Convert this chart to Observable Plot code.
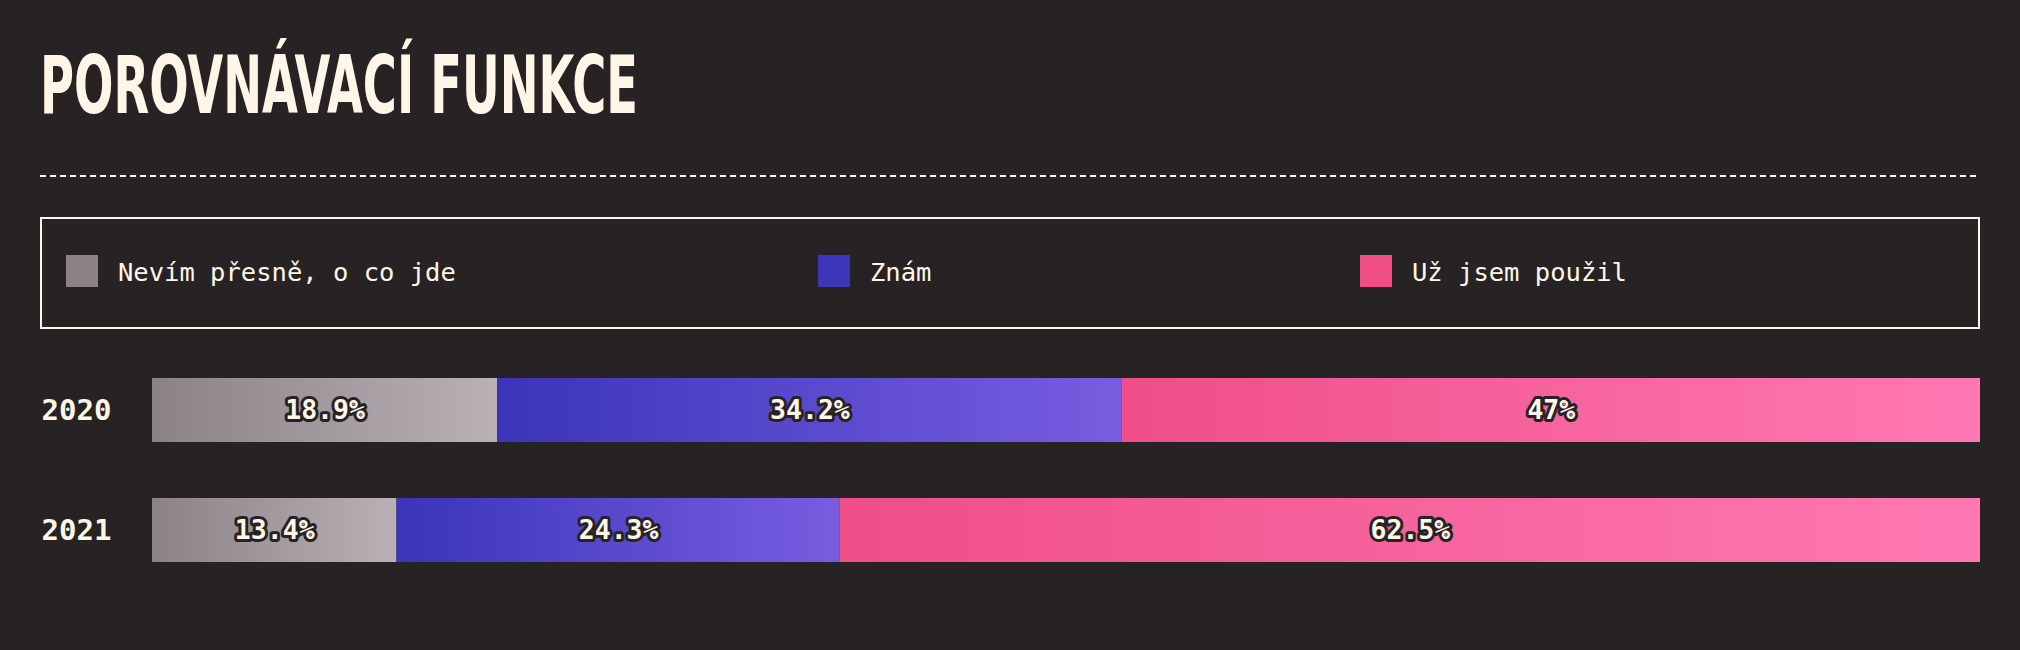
<!DOCTYPE html>
<html>
<head>
<meta charset="utf-8">
<script src="https://cdn.jsdelivr.net/npm/d3@7"></script>
<script src="https://cdn.jsdelivr.net/npm/@observablehq/plot@0.6"></script>
<style>
  html, body { margin: 0; padding: 0; background: #272324; }
  #page { position: relative; width: 2020px; height: 650px; overflow: hidden; background: #272324; color: #fff6e8; }
  #title { position: absolute; left: 40px; top: 46px; font-family: "Liberation Sans Narrow", "DejaVu Sans Condensed", sans-serif; font-weight: bold; font-size: 80px; line-height: 80px; white-space: nowrap; transform-origin: 0 0; letter-spacing: 0; }
  #rule { position: absolute; left: 40px; top: 175px; width: 1940px; height: 2px; background: repeating-linear-gradient(to right, #fff6e8 0 6px, transparent 6px 10px); }
  #legend { position: absolute; left: 40px; top: 217px; width: 1940px; height: 112px; box-sizing: border-box; border: 2px solid #fff6e8; }
  .item { position: absolute; top: 37px; display: flex; align-items: center; font-family: "DejaVu Sans Mono", monospace; font-size: 25.5px; color: #fff6e8; white-space: nowrap; }
  .sw { width: 32px; height: 32px; margin-right: 20px; position: relative; top: -1px; }
  #chart { position: absolute; left: 0; top: 358px; }
</style>
</head>
<body>
<div id="page">
  <div id="title">POROVNÁVACÍ FUNKCE</div>
  <div id="rule"></div>
  <div id="legend"></div>
  <div id="chart"></div>
</div>
<script>
// ---- data ----
const years = ["2020", "2021"];
const categories = ["Nevím přesně, o co jde", "Znám", "Už jsem použil"];
const values2020 = [18.9, 34.2, 47];
const values2021 = [13.4, 24.3, 62.5];
const colorStart = ["#8b8288", "#3a35b9", "#ef4e87"];
const colorEnd = ["#b9b1b4", "#785de0", "#ff78b3"];

const seriesByYear = {"2020": values2020, "2021": values2021};
const rows = years.flatMap(year => categories.map((category, i) => ({year, category, value: seriesByYear[year][i]})));

// ---- title fit ----
const title = document.getElementById("title");
const tw = title.getBoundingClientRect().width;
title.style.transform = `scaleX(${598 / tw})`;

// ---- legend ----
const legend = document.getElementById("legend");
const legendLeft = [24, 776, 1318];
categories.forEach((c, i) => {
  const it = document.createElement("div");
  it.className = "item";
  it.style.left = legendLeft[i] + "px";
  const sw = document.createElement("div");
  sw.className = "sw";
  sw.style.background = colorStart[i];
  const tx = document.createElement("span");
  tx.textContent = c;
  it.appendChild(sw);
  it.appendChild(tx);
  legend.appendChild(it);
});

// ---- chart ----
const gradIds = categories.map((c, i) => `grad${i}`);
const chart = Plot.plot({
  width: 2020,
  height: 292,
  marginTop: 20,
  marginBottom: 88,
  marginLeft: 152,
  marginRight: 40,
  style: {background: "transparent", fontFamily: "DejaVu Sans Mono, monospace", color: "#fff6e8"},
  x: {axis: null},
  y: {domain: years, paddingInner: 0.4667, paddingOuter: 0, round: false},
  color: {type: "ordinal", domain: categories, range: gradIds.map(id => `url(#${id})`)},
  marks: [
    Plot.barX(rows, Plot.stackX({x: "value", y: "year", fill: "category", offset: "normalize"})),
    Plot.text(rows, Plot.stackX({
      x: "value", y: "year", z: "category", offset: "normalize",
      text: d => `${d.value}%`,
      fill: "#fff6e8", stroke: "#272324", strokeWidth: 6, strokeLinejoin: "round",
      fontSize: 26.5, fontWeight: "bold", fontFamily: "DejaVu Sans Mono, monospace"
    })),
    Plot.axisY({tickSize: 0, tickPadding: 0, textAnchor: "start", dx: -111, fontSize: 29, fontWeight: "bold", fill: "#fff6e8", label: null})
  ]
});
const ns = "http://www.w3.org/2000/svg";
const defs = document.createElementNS(ns, "defs");
gradIds.forEach((id, i) => {
  const g = document.createElementNS(ns, "linearGradient");
  g.setAttribute("id", id);
  g.setAttribute("x1", "0"); g.setAttribute("y1", "0");
  g.setAttribute("x2", "1"); g.setAttribute("y2", "0");
  [[0, colorStart[i]], [1, colorEnd[i]]].forEach(([o, c]) => {
    const s = document.createElementNS(ns, "stop");
    s.setAttribute("offset", o);
    s.setAttribute("stop-color", c);
    g.appendChild(s);
  });
  defs.appendChild(g);
});
chart.insertBefore(defs, chart.firstChild);
document.getElementById("chart").appendChild(chart);
</script>
</body>
</html>
